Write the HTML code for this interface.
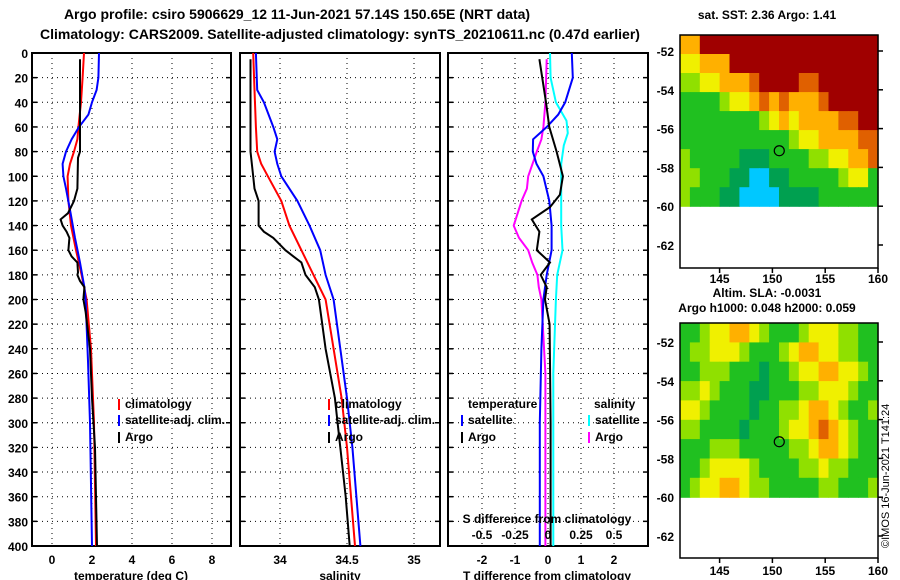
<!DOCTYPE html>
<html><head><meta charset="utf-8"><style>
body{margin:0;background:#fff;}
svg{display:block;font-family:"Liberation Sans",sans-serif;font-weight:bold;}
</style></head><body>
<svg id="fig" width="900" height="580" viewBox="0 0 900 580">
<text x="297" y="19" font-size="14" text-anchor="middle">Argo profile: csiro 5906629_12 11-Jun-2021 57.14S 150.65E (NRT data)</text>
<text x="340" y="39" font-size="14" text-anchor="middle">Climatology: CARS2009. Satellite-adjusted climatology: synTS_20210611.nc (0.47d earlier)</text>
<text x="767" y="19" font-size="12" text-anchor="middle">sat. SST: 2.36 Argo: 1.41</text>
<text x="767" y="297" font-size="12" text-anchor="middle">Altim. SLA: -0.0031</text>
<text x="767" y="312" font-size="12" text-anchor="middle">Argo h1000: 0.048 h2000: 0.059</text>
<text transform="translate(889,548) rotate(-90)" font-size="11" font-weight="normal">©IMOS 16-Jun-2021 T141:24</text>
<g id="g"></g>
</svg>
<script>
// ---- profile data (depth in m) ----
const depthArgoT=[5,40,80,85,110,120,130,135,140,145,150,160,165,170,178,180,185,190,200,210,240,280,320,360,400];
const tempArgo=[1.4,1.4,1.4,1.3,1.27,1.1,0.8,0.43,0.53,0.73,0.87,0.82,0.98,1.27,1.3,1.27,1.4,1.62,1.57,1.68,1.9,2.0,2.15,2.2,2.25];
const depthClimT=[0,20,40,60,70,80,90,100,120,140,160,180,200,240,300,400];
const tempClim=[1.6,1.53,1.45,1.32,1.27,1.1,0.9,0.78,0.82,0.95,1.2,1.48,1.73,1.95,2.1,2.2];
const depthSatT=[0,20,30,40,50,60,70,80,90,100,110,130,150,170,190,200,250,300,400];
const tempSat=[2.35,2.32,2.23,2.0,1.82,1.35,0.98,0.7,0.53,0.57,0.7,0.93,1.15,1.4,1.62,1.68,1.8,1.9,2.0];
const depthArgoS=[5,80,100,110,120,140,145,150,160,165,170,180,190,200,240,280,320,360,400];
const salArgo=[33.78,33.78,33.8,33.81,33.84,33.84,33.88,33.95,34.04,34.1,34.16,34.19,34.26,34.29,34.34,34.41,34.45,34.49,34.52];
const depthClimS=[0,30,60,80,90,100,120,140,160,180,200,240,280,320,400];
const salClim=[33.8,33.81,33.82,33.83,33.86,33.91,34.01,34.07,34.16,34.25,34.34,34.4,34.46,34.5,34.56];
const depthSatS=[0,30,40,60,70,80,90,100,120,140,160,180,200,240,280,320,400];
const salSat=[33.82,33.83,33.88,33.95,33.98,33.96,33.98,34.01,34.13,34.22,34.3,34.34,34.4,34.45,34.5,34.54,34.6];
const depthDTA=[5,40,60,80,100,115,125,135,145,160,170,180,190,200,220,300,400];
const dTArgo=[-0.26,-0.06,0.04,0.26,0.45,0.36,0.06,-0.49,-0.26,-0.34,0.06,-0.22,-0.04,-0.09,0.05,0.08,0.08];
const depthDTS=[0,20,40,50,60,70,80,90,100,120,140,160,180,200,240,300,400];
const dTSat=[0.72,0.75,0.52,0.31,-0.04,-0.45,-0.46,-0.35,-0.14,0.04,0.11,0.11,-0.04,-0.14,-0.2,-0.25,-0.25];
const depthDSS=[0,20,40,55,65,75,90,100,140,160,180,200,260,400];
const dSSat=[0.015,0.02,0.06,0.14,0.15,0.12,0.1,0.1,0.1,0.11,0.07,0.06,0.04,0.04];
const depthDSA=[5,40,60,70,80,100,110,120,140,150,160,170,180,190,200,260,400];
const dSArgo=[-0.01,-0.02,-0.035,-0.05,-0.085,-0.15,-0.16,-0.2,-0.26,-0.22,-0.15,-0.12,-0.08,-0.07,-0.05,-0.02,-0.02];
const depthTicks=[0,20,40,60,80,100,120,140,160,180,200,220,240,260,280,300,320,340,360,380,400];
const tempTicks=[0,2,4,6,8];
const salTicks=[34,34.5,35];
const salTickLabels=["34","34.5","35"];
const dTTicks=[-2,-1,0,1,2];
const dSTicks=[-0.5,-0.25,0,0.25,0.5];
const dSTickLabels=["-0.5","-0.25","0","0.25","0.5"];
// ---- map data: rows from -51.2 to -60 lat, cols 141.25..160 lon; values 0-9 colour index ----
const sstRows=["77999999999999999999","66777999999999999999","55667778999988999999","44445667878777899999","44444444567677778899","44444444444566777788","54444433344445566778","55444332233444445664","54443322223333444444"];
const slaRows=["44566776544456665544","45566654445677665544","44555444344566776654","55654443344455666544","66544443445567765445","55444434445667876544","44455544444556776544","44566665444455655444","45667765544444554445"];
const latTicks=[-52,-54,-56,-58,-60,-62];
const lonTicks=[145,150,155,160];
const argoLon=150.65, argoLat=-57.14;
const palette=["#0000c8","#0070ff","#00c8ff","#00a050","#20c020","#90e000","#f0f000","#ffb000","#e06000","#a00000"];

const NS="http://www.w3.org/2000/svg";
const G=document.getElementById('g');
function mk(t,a,p){const e=document.createElementNS(NS,t);for(const k in a)e.setAttribute(k,a[k]);(p||G).appendChild(e);return e;}
const TOP=53,BOT=546;
const yD=d=>TOP+d*(BOT-TOP)/400;
const panels=[
 {l:32,r:231,x:v=>52+v*20,name:'temperature'},
 {l:240,r:440,x:v=>280+(v-34)*134,name:'salinity'},
 {l:448,r:648,x:v=>548+v*33,name:'t-difference'}];
const xS=v=>548+v*132;

panels.forEach((p,i)=>{
  const fr=mk('rect',{x:p.l,y:TOP,width:p.r-p.l,height:BOT-TOP,fill:'none',stroke:'#000','stroke-width':2});
  
  
  depthTicks.forEach(d=>{
    const y=yD(d);
    if(d>0&&d<400){const gl=mk('line',{x1:p.l,x2:p.r,y1:y,y2:y,stroke:'#000','stroke-dasharray':'1,4'});
    
    }
    mk('line',{x1:p.l,x2:p.l+5,y1:y,y2:y,stroke:'#000','stroke-width':1.5});
    mk('line',{x1:p.r-5,x2:p.r,y1:y,y2:y,stroke:'#000','stroke-width':1.5});
    if(i===0){const t=mk('text',{x:28,y:y+5,'font-size':12,'text-anchor':'end'});t.textContent=d;
    
    }
  });
});
function vgrid(p,ticks,labels,fn){
  ticks.forEach((v,k)=>{const x=fn(v);
    const gl=mk('line',{x1:x,x2:x,y1:TOP,y2:BOT,stroke:'#000','stroke-dasharray':'1,4'});
    
    
    const t=mk('text',{x:x,y:564,'font-size':12,'text-anchor':'middle'});t.textContent=labels[k];
    
    
  });
}
vgrid(panels[0],tempTicks,tempTicks.map(String),panels[0].x);
vgrid(panels[1],salTicks,salTickLabels,panels[1].x);
vgrid(panels[2],dTTicks,dTTicks.map(String),panels[2].x);
[['temperature (deg C)',131],['salinity',340],['T difference from climatology',547]].forEach(a=>{
  const t=mk('text',{x:a[1],y:580,'font-size':12,'text-anchor':'middle'});t.textContent=a[0];
  
  
});
function line(ds,vs,fx,col,name){
  const pts=ds.map((d,k)=>fx(vs[k]).toFixed(1)+','+yD(d).toFixed(1)).join(' ');
  const e=mk('polyline',{points:pts,fill:'none',stroke:col,'stroke-width':2});
  
  
}
line(depthClimT,tempClim,panels[0].x,'#ff0000','temp-climatology-line');
line(depthSatT,tempSat,panels[0].x,'#0000ff','temp-satellite-line');
line(depthArgoT,tempArgo,panels[0].x,'#000','temp-argo-line');
line(depthClimS,salClim,panels[1].x,'#ff0000','sal-climatology-line');
line(depthSatS,salSat,panels[1].x,'#0000ff','sal-satellite-line');
line(depthArgoS,salArgo,panels[1].x,'#000','sal-argo-line');
line(depthDSS,dSSat,xS,'#00ffff','dS-satellite-line');
line(depthDSA,dSArgo,xS,'#ff00ff','dS-argo-line');
line(depthDTS,dTSat,panels[2].x,'#0000ff','dT-satellite-line');
line(depthDTA,dTArgo,panels[2].x,'#000','dT-argo-line');

// S diff axis labels inside panel 3
{const t=mk('text',{x:547,y:523,'font-size':12,'text-anchor':'middle'});t.textContent='S difference from climatology';

}
dSTicks.forEach((v,k)=>{const t=mk('text',{x:xS(v),y:539,'font-size':12,'text-anchor':'middle'});t.textContent=dSTickLabels[k];

});

// legends
function leg(x,y,col,txt,name){
  const m=mk('line',{x1:x,x2:x,y1:y-9,y2:y+2,stroke:col,'stroke-width':2});
  
  
  const t=mk('text',{x:x+6,y:y,'font-size':12});t.textContent=txt;
  
  
}
[[0,119],[1,329]].forEach(a=>{
  leg(a[1],408,'#ff0000','climatology','legend-climatology');
  leg(a[1],424,'#0000ff','satellite-adj. clim.','legend-satellite-adj');
  leg(a[1],441,'#000','Argo','legend-argo');
});
{const t=mk('text',{x:468,y:408,'font-size':12});t.textContent='temperature';


const t2=mk('text',{x:594,y:408,'font-size':12});t2.textContent='salinity';

}
leg(462,424,'#0000ff','satellite','legend-t-satellite');
leg(462,441,'#000','Argo','legend-t-argo');
leg(589,424,'#00ffff','satellite','legend-s-satellite');
leg(589,441,'#ff00ff','Argo','legend-s-argo');

// maps
const maps=[{rows:sstRows,top:35,bot:268,lat52:51,name:'sst-map',lab:283},{rows:slaRows,top:323,bot:558,lat52:342,name:'sla-map',lab:575}];
const ML=680,MR=878;
const xLon=lon=>ML+(lon-141.25)*(MR-ML)/18.75;
maps.forEach(m=>{
  const yLat=lat=>m.lat52+(-52-lat)*19.4;
  const grp=mk('g',{});
  
  
  const nr=m.rows.length, nc=m.rows[0].length;
  const y0=m.top,y1=yLat(-60),cw=(MR-ML)/nc,ch=(y1-y0)/nr;
  m.rows.forEach((row,r)=>{
    for(let c=0;c<nc;c++){
      const e=mk('rect',{x:(ML+c*cw).toFixed(1),y:(y0+r*ch).toFixed(1),width:(cw+0.6).toFixed(1),height:(ch+0.6).toFixed(1),fill:palette[+row[c]]},grp);
      
      
    }
  });
  const fr=mk('rect',{x:ML,y:m.top,width:MR-ML,height:m.bot-m.top,fill:'none',stroke:'#000','stroke-width':1.5});
  
  
  latTicks.forEach(l=>{const y=yLat(l);
    mk('line',{x1:MR,x2:MR+5,y1:y,y2:y,stroke:'#000','stroke-width':1.5});
    const t=mk('text',{x:ML-6,y:y+5,'font-size':12,'text-anchor':'end'});t.textContent=l;
    
    });
  lonTicks.forEach(l=>{const x=xLon(l);
    mk('line',{x1:x,x2:x,y1:m.bot,y2:m.bot+5,stroke:'#000','stroke-width':1.5});
    const t=mk('text',{x:x,y:m.lab,'font-size':12,'text-anchor':'middle'});t.textContent=l;
    
    });
  const c=mk('circle',{cx:xLon(argoLon),cy:yLat(argoLat),r:5,fill:'none',stroke:'#000','stroke-width':1.2});
  
  
});
</script>
</body></html>
